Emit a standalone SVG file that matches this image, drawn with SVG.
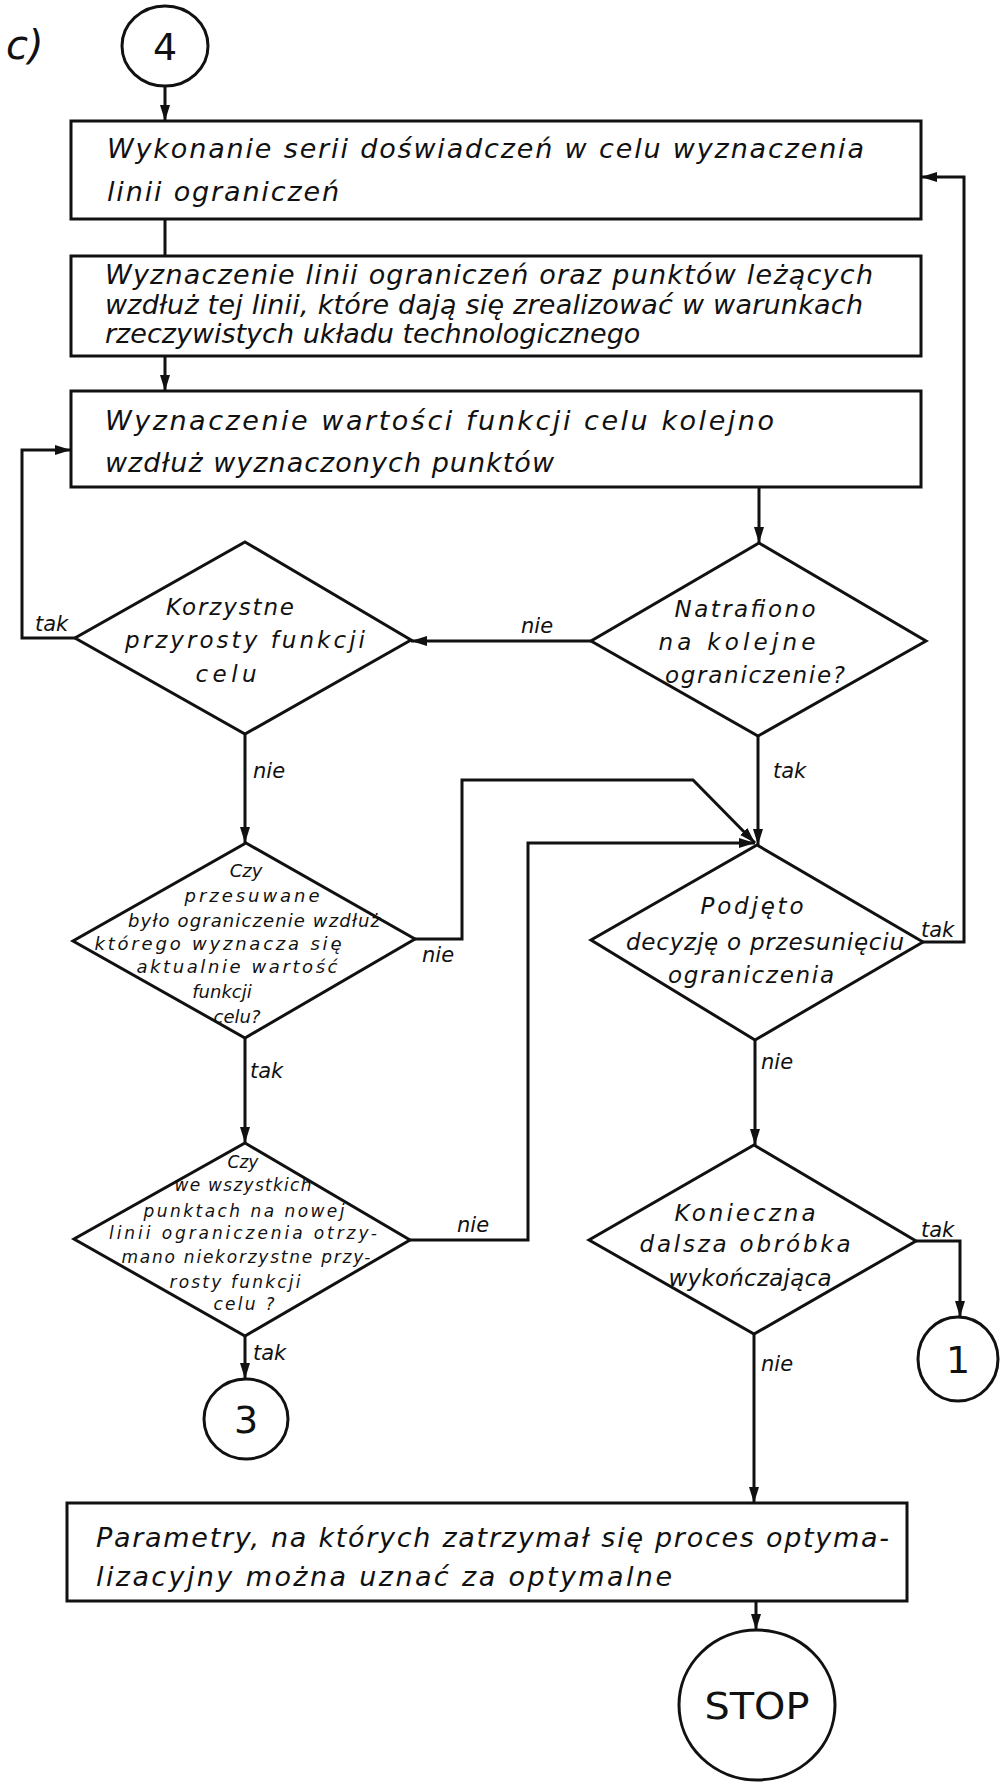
<svg xmlns="http://www.w3.org/2000/svg" width="1003" height="1784" viewBox="0 0 1003 1784">
<defs>
<marker id="ah" markerUnits="userSpaceOnUse" markerWidth="18" markerHeight="12" refX="16" refY="5" orient="auto">
<path d="M0,0 L16,5 L0,10 z" fill="#111"/>
</marker>
<style>
.b{fill:none;stroke:#111;stroke-width:3}
.c{fill:none;stroke:#111;stroke-width:3}
.t{font-family:"DejaVu Sans","Liberation Sans",sans-serif;font-style:oblique;fill:#111}
.bx{font-size:27px}
.d{font-size:23px;text-anchor:middle}
.s{font-size:18px;text-anchor:middle}
.xs{font-size:17px;text-anchor:middle}
.l{font-size:21px}
.n{font-family:"DejaVu Sans","Liberation Sans",sans-serif;font-size:38px;text-anchor:middle;fill:#111}
</style>
</defs>
<rect x="0" y="0" width="1003" height="1784" fill="#fff"/>
<text class="t" x="6" y="59" font-size="40">c)</text>

<g id="start4"><ellipse class="b" cx="165" cy="46" rx="43" ry="40"/><text class="n" x="165" y="60">4</text></g>

<g id="box1"><rect class="b" x="71" y="121" width="850" height="98"/>
<text class="t bx" x="107" y="158" textLength="757" lengthAdjust="spacing">Wykonanie serii doświadczeń w celu wyznaczenia</text>
<text class="t bx" x="107" y="201" textLength="232" lengthAdjust="spacing">linii ograniczeń</text></g>

<g id="box2"><rect class="b" x="71" y="256" width="850" height="100"/>
<text class="t bx" x="105" y="284" font-size="25" textLength="768" lengthAdjust="spacing">Wyznaczenie linii ograniczeń oraz punktów leżących</text>
<text class="t bx" x="105" y="314" font-size="25" textLength="758" lengthAdjust="spacing">wzdłuż tej linii, które dają się zrealizować w warunkach</text>
<text class="t bx" x="105" y="343" font-size="24">rzeczywistych układu technologicznego</text></g>

<g id="box3"><rect class="b" x="71" y="391" width="850" height="96"/>
<text class="t bx" x="105" y="430" textLength="669" lengthAdjust="spacing">Wyznaczenie wartości funkcji celu kolejno</text>
<text class="t bx" x="105" y="472" textLength="449" lengthAdjust="spacing">wzdłuż wyznaczonych punktów</text></g>

<g id="korzystne"><polygon class="b" points="245,542 411,640 245,734 75,638"/>
<text class="t d" x="230" y="615" textLength="128" lengthAdjust="spacing">Korzystne</text>
<text class="t d" x="245" y="648" textLength="240" lengthAdjust="spacing">przyrosty funkcji</text>
<text class="t d" x="226" y="682" textLength="61" lengthAdjust="spacing">celu</text></g>

<g id="natrafiono"><polygon class="b" points="759,543 926,641 758,736 591,641"/>
<text class="t d" x="745" y="617" textLength="141" lengthAdjust="spacing">Natrafiono</text>
<text class="t d" x="737" y="650" textLength="157" lengthAdjust="spacing">na kolejne</text>
<text class="t d" x="755" y="683" textLength="180" lengthAdjust="spacing">ograniczenie?</text></g>

<g id="czy1"><polygon class="b" points="246,843 415,939 245,1038 73,941"/>
<text class="t s" x="246" y="877">Czy</text>
<text class="t s" x="252" y="902" textLength="135" lengthAdjust="spacing">przesuwane</text>
<text class="t s" x="254" y="927" textLength="252" lengthAdjust="spacing">było ograniczenie wzdłuż</text>
<text class="t s" x="218" y="950" textLength="247" lengthAdjust="spacing">którego wyznacza się</text>
<text class="t s" x="237" y="973" textLength="201" lengthAdjust="spacing">aktualnie wartość</text>
<text class="t s" x="222" y="998">funkcji</text>
<text class="t s" x="237" y="1023">celu?</text></g>

<g id="podjeto"><polygon class="b" points="757,845 923,942 755,1040 591,940"/>
<text class="t d" x="752" y="914" font-size="25" textLength="103" lengthAdjust="spacing">Podjęto</text>
<text class="t d" x="765" y="950" textLength="278" lengthAdjust="spacing">decyzję o przesunięciu</text>
<text class="t d" x="751" y="983" textLength="166" lengthAdjust="spacing">ograniczenia</text></g>

<g id="czy2"><polygon class="b" points="245,1143 410,1240 245,1336 74,1239"/>
<text class="t xs" x="243" y="1168">Czy</text>
<text class="t xs" x="243" y="1191" textLength="137" lengthAdjust="spacing">we wszystkich</text>
<text class="t xs" x="244" y="1217" textLength="201" lengthAdjust="spacing">punktach na nowej</text>
<text class="t xs" x="243" y="1239" textLength="268" lengthAdjust="spacing">linii ograniczenia otrzy-</text>
<text class="t xs" x="246" y="1263" textLength="249" lengthAdjust="spacing">mano niekorzystne przy-</text>
<text class="t xs" x="235" y="1288" textLength="131" lengthAdjust="spacing">rosty funkcji</text>
<text class="t xs" x="244" y="1310" textLength="61" lengthAdjust="spacing">celu ?</text></g>

<g id="konieczna"><polygon class="b" points="754,1145 916,1241 754,1334 589,1240"/>
<text class="t d" x="745" y="1221" textLength="141" lengthAdjust="spacing">Konieczna</text>
<text class="t d" x="745" y="1252" textLength="211" lengthAdjust="spacing">dalsza obróbka</text>
<text class="t d" x="750" y="1286" textLength="163" lengthAdjust="spacing">wykończająca</text></g>

<g id="conn3"><ellipse class="b" cx="246" cy="1419" rx="42" ry="40"/><text class="n" x="246" y="1433">3</text></g>
<g id="conn1"><ellipse class="b" cx="958" cy="1359" rx="40" ry="42"/><text class="n" x="958" y="1373">1</text></g>

<g id="box4"><rect class="b" x="67" y="1503" width="840" height="98"/>
<text class="t bx" x="96" y="1547" textLength="793" lengthAdjust="spacing">Parametry, na których zatrzymał się proces optyma-</text>
<text class="t bx" x="96" y="1586" textLength="576" lengthAdjust="spacing">lizacyjny można uznać za optymalne</text></g>

<g id="stop"><ellipse class="b" cx="757" cy="1705" rx="78" ry="75"/><text class="n" x="757" y="1719" font-size="38" textLength="105" lengthAdjust="spacingAndGlyphs">STOP</text></g>

<g id="connectors">
<path class="c" d="M165,86 V121" marker-end="url(#ah)"/>
<path class="c" d="M165,219 V256"/>
<path class="c" d="M165,356 V391" marker-end="url(#ah)"/>
<path class="c" d="M759,487 V543" marker-end="url(#ah)"/>
<path class="c" d="M591,641 H411" marker-end="url(#ah)"/>
<path class="c" d="M75,638 H22 V450 H71" marker-end="url(#ah)"/>
<path class="c" d="M245,734 V843" marker-end="url(#ah)"/>
<path class="c" d="M758,736 V845" marker-end="url(#ah)"/>
<path class="c" d="M415,939 H462 V780 H693 L755,843" marker-end="url(#ah)"/>
<path class="c" d="M410,1240 H528 V843 H755" marker-end="url(#ah)"/>
<path class="c" d="M923,942 H964 V177 H921" marker-end="url(#ah)"/>
<path class="c" d="M245,1038 V1143" marker-end="url(#ah)"/>
<path class="c" d="M755,1040 V1145" marker-end="url(#ah)"/>
<path class="c" d="M245,1336 V1379" marker-end="url(#ah)"/>
<path class="c" d="M916,1241 H960 V1317" marker-end="url(#ah)"/>
<path class="c" d="M754,1334 V1503" marker-end="url(#ah)"/>
<path class="c" d="M756,1601 V1630" marker-end="url(#ah)"/>
</g>

<g id="labels">
<text class="t l" x="35" y="631">tak</text>
<text class="t l" x="521" y="633">nie</text>
<text class="t l" x="253" y="778">nie</text>
<text class="t l" x="773" y="778">tak</text>
<text class="t l" x="422" y="962">nie</text>
<text class="t l" x="921" y="937" font-size="18">tak</text>
<text class="t l" x="250" y="1078">tak</text>
<text class="t l" x="761" y="1069">nie</text>
<text class="t l" x="457" y="1232">nie</text>
<text class="t l" x="921" y="1237">tak</text>
<text class="t l" x="253" y="1360">tak</text>
<text class="t l" x="761" y="1371">nie</text>
</g>
</svg>
